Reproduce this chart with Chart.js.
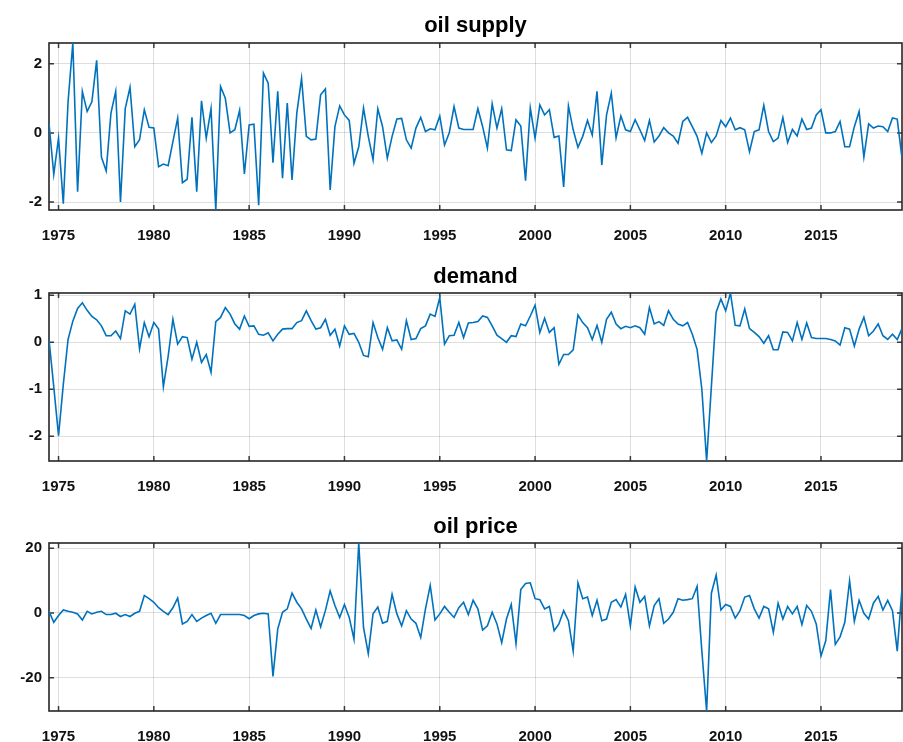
<!DOCTYPE html>
<html>
<head>
<meta charset="utf-8">
<title>oil supply / demand / oil price</title>
<script src="https://cdn.jsdelivr.net/npm/chart.js@4.4.1/dist/chart.umd.min.js"></script>
<style>
  body { margin: 0; background: #fff; }
  canvas { position: absolute; left: 0; }
</style>
</head>
<body>
<canvas id="supply-chart" width="903" height="250" style="top:0px"></canvas>
<canvas id="demand-chart" width="903" height="250" style="top:250px"></canvas>
<canvas id="price-chart" width="903" height="242" style="top:500px"></canvas>
<script>
// quarterly series, first observation is 1974Q3
const firstQuarter = 1974.5;
const yearTicks = [1975, 1980, 1985, 1990, 1995, 2000, 2005, 2010, 2015];
const supplyTicks = [-2, 0, 2];
const demandTicks = [-2, -1, 0, 1];
const priceTicks = [-20, 0, 20];

const oilSupply = [
  0.28, -1.2, -0.15, -2.05, 0.9, 2.6, -1.7, 1.2, 0.62, 0.9,
  2.1, -0.7, -1.1, 0.57, 1.2, -2.0, 0.7, 1.32, -0.4, -0.2,
  0.67, 0.16, 0.14, -0.98, -0.9, -0.95, -0.25, 0.43, -1.44, -1.34,
  0.45, -1.7, 0.93, -0.15, 0.7, -2.23, 1.34, 1.0, 0.0, 0.09,
  0.65, -1.19, 0.23, 0.25, -2.09, 1.73, 1.44, -0.86, 1.2, -1.31,
  0.86, -1.36, 0.57, 1.58, -0.1, -0.2, -0.18, 1.1, 1.27, -1.65,
  0.18, 0.78, 0.52, 0.36, -0.88, -0.4, 0.72, -0.1, -0.78, 0.7,
  0.18, -0.73, -0.1, 0.4, 0.42, -0.2, -0.44, 0.14, 0.45, 0.04,
  0.12, 0.09, 0.49, -0.35, 0.0, 0.76, 0.14, 0.1, 0.1, 0.1,
  0.7, 0.18, -0.44, 0.84, 0.14, 0.7, -0.49, -0.51, 0.38, 0.2,
  -1.38, 0.72, -0.15, 0.81, 0.52, 0.67, -0.13, -0.09, -1.56, 0.78,
  0.09, -0.42, -0.1, 0.36, -0.06, 1.2, -0.93, 0.52, 1.15, -0.14,
  0.49, 0.09, 0.04, 0.38, 0.09, -0.22, 0.36, -0.26, -0.09, 0.15,
  0.0, -0.09, -0.3, 0.33, 0.45, 0.18, -0.1, -0.59, 0.0, -0.28,
  -0.09, 0.36, 0.18, 0.43, 0.09, 0.15, 0.09, -0.54, 0.04, 0.09,
  0.8, 0.04, -0.25, -0.15, 0.44, -0.28, 0.1, -0.09, 0.4, 0.1,
  0.14, 0.52, 0.67, 0.0, 0.0, 0.04, 0.33, -0.4, -0.4, 0.18,
  0.62, -0.7, 0.26, 0.14, 0.2, 0.18, 0.04, 0.43, 0.4, -0.73
];

const demand = [
  0.06, -0.95, -1.99, -0.9, 0.06, 0.45, 0.72, 0.84, 0.68, 0.55,
  0.48, 0.35, 0.14, 0.14, 0.24, 0.08, 0.67, 0.6, 0.81, -0.14,
  0.42, 0.12, 0.42, 0.28, -0.95, -0.3, 0.49, -0.04, 0.12, 0.1,
  -0.36, 0.0, -0.43, -0.26, -0.64, 0.44, 0.53, 0.74, 0.6, 0.39,
  0.28, 0.56, 0.34, 0.35, 0.17, 0.15, 0.2, 0.03, 0.17, 0.28,
  0.29, 0.29, 0.42, 0.46, 0.67, 0.46, 0.28, 0.31, 0.49, 0.15,
  0.28, -0.08, 0.35, 0.17, 0.19, 0.0, -0.28, -0.31, 0.42, 0.1,
  -0.15, 0.31, 0.03, 0.05, -0.15, 0.46, 0.06, 0.08, 0.29, 0.35,
  0.6, 0.55, 0.95, -0.04, 0.14, 0.15, 0.42, 0.1, 0.41, 0.42,
  0.44, 0.56, 0.53, 0.35, 0.15, 0.08, 0.0, 0.14, 0.12, 0.39,
  0.35, 0.56, 0.79, 0.21, 0.51, 0.21, 0.31, -0.47, -0.26, -0.26,
  -0.16, 0.58, 0.42, 0.31, 0.06, 0.36, 0.0, 0.49, 0.64, 0.39,
  0.29, 0.34, 0.31, 0.35, 0.31, 0.17, 0.74, 0.39, 0.44, 0.36,
  0.67, 0.49, 0.39, 0.35, 0.42, 0.17, -0.15, -1.0, -2.53, -0.94,
  0.64, 0.92, 0.67, 1.05, 0.36, 0.35, 0.71, 0.29, 0.21, 0.12,
  -0.02, 0.14, -0.16, -0.16, 0.22, 0.21, 0.03, 0.42, 0.06, 0.41,
  0.1, 0.08, 0.08, 0.08, 0.06, 0.03, -0.06, 0.31, 0.28, -0.08,
  0.28, 0.53, 0.14, 0.24, 0.39, 0.14, 0.06, 0.17, 0.06, 0.29
];

const oilPrice = [
  0.5, -2.9, -0.8, 0.9, 0.5, 0.2, -0.3, -2.2, 0.5, -0.3,
  0.2, 0.5, -0.5, -0.5, -0.1, -1.1, -0.5, -1.1, -0.1, 0.5,
  5.4, 4.4, 3.3, 1.6, 0.5, -0.5, 1.6, 4.6, -3.4, -2.6,
  -0.5, -2.6, -1.6, -0.8, -0.1, -3.2, -0.5, -0.5, -0.5, -0.5,
  -0.5, -0.8, -1.8, -0.8, -0.3, -0.1, -0.3, -19.6, -5.0, 0.2,
  1.25, 6.1, 3.3, 1.25, -1.9, -4.8, 0.9, -4.3, 0.7, 6.8,
  2.3, -1.4, 2.6, -1.4, -8.1, 21.6, -4.5, -12.6, -0.3, 1.8,
  -3.2, -2.6, 5.7, -0.3, -4.0, 0.7, -1.9, -3.2, -7.6, 1.25,
  8.5, -2.2, -0.3, 2.0, 0.2, -1.4, 1.6, 3.3, -0.5, 3.9,
  1.25, -5.3, -4.0, 0.2, -3.4, -9.2, -1.9, 2.6, -9.5, 7.2,
  9.1, 9.3, 4.4, 4.1, 1.25, 2.0, -5.5, -3.4, 0.7, -2.4,
  -11.8, 9.3, 4.4, 4.9, -0.8, 3.9, -2.4, -1.9, 3.3, 4.1,
  1.8, 5.7, -4.0, 8.0, 3.3, 5.1, -4.0, 2.3, 4.4, -3.2,
  -1.9, 0.2, 4.4, 3.9, 4.1, 4.4, 8.2, -11.8, -30.3, 6.1,
  11.7, 0.9, 2.6, 2.0, -1.6, 0.7, 4.9, 5.4, 1.25, -1.6,
  2.0, 1.25, -6.0, 3.0, -1.9, 2.0, -0.3, 2.0, -3.6, 2.3,
  0.5, -3.4, -13.3, -8.6, 7.2, -9.7, -7.4, -2.9, 9.9, -2.6,
  3.9, -0.1, -1.9, 3.0, 5.1, 0.9, 3.9, 0.7, -11.8, 7.5
];

// box round the plot area plus inward tick marks (matlab look)
const axesBox = {
  id: "axesBox",
  beforeDatasetsDraw(chart) {
    const ctx = chart.ctx;
    const a = chart.chartArea;
    const x = chart.scales.x;
    const y = chart.scales.y;
    const len = 5;
    ctx.save();
    ctx.strokeStyle = "#3a3a3a";
    ctx.lineWidth = 1.5;
    ctx.beginPath();
    x.ticks.forEach((t) => {
      const px = x.getPixelForValue(t.value);
      ctx.moveTo(px, a.bottom); ctx.lineTo(px, a.bottom - len);
      ctx.moveTo(px, a.top); ctx.lineTo(px, a.top + len);
    });
    y.ticks.forEach((t) => {
      const py = y.getPixelForValue(t.value);
      ctx.moveTo(a.left, py); ctx.lineTo(a.left + len, py);
      ctx.moveTo(a.right, py); ctx.lineTo(a.right - len, py);
    });
    ctx.stroke();
    ctx.lineWidth = 1.6;
    ctx.strokeStyle = "#262626";
    ctx.strokeRect(a.left, a.top, a.right - a.left, a.bottom - a.top);
    ctx.restore();
  }
};

function makePanel(canvasId, title, values, yTicks, titleTop, xAxisHeight) {
  const points = values.map((v, i) => ({ x: firstQuarter + i * 0.25, y: v }));
  const ctx = document.getElementById(canvasId).getContext("2d");
  return new Chart(ctx, {
    type: "line",
    data: {
      datasets: [{
        data: points,
        borderColor: "#0072BD",
        borderWidth: 1.6,
        pointRadius: 0,
        tension: 0,
        fill: false
      }]
    },
    options: {
      responsive: false,
      animation: false,
      layout: { padding: { left: 0, right: 1, top: 0, bottom: 0 } },
      scales: {
        x: {
          type: "linear",
          min: firstQuarter,
          max: points[points.length - 1].x,
          afterBuildTicks: (axis) => { axis.ticks = yearTicks.map((v) => ({ value: v })); },
          afterFit: (axis) => { axis.height = xAxisHeight; },
          grid: { color: "rgba(0,0,0,0.13)", lineWidth: 1, drawTicks: false },
          border: { display: false },
          ticks: {
            padding: 17,
            maxRotation: 0,
            color: "#111",
            font: { family: "'Liberation Sans', Arial, sans-serif", size: 15, weight: "bold" },
            callback: (v) => String(v)
          }
        },
        y: {
          min: Math.min(...values),
          max: Math.max(...values),
          afterBuildTicks: (axis) => { axis.ticks = yTicks.map((v) => ({ value: v })); },
          afterFit: (axis) => { axis.width = 49; },
          grid: { color: "rgba(0,0,0,0.13)", lineWidth: 1, drawTicks: false },
          border: { display: false },
          ticks: {
            padding: 7,
            color: "#111",
            font: { family: "'Liberation Sans', Arial, sans-serif", size: 15, weight: "bold" },
            callback: (v) => String(v)
          }
        }
      },
      plugins: {
        legend: { display: false },
        tooltip: { enabled: false },
        title: {
          display: true,
          text: title,
          fullSize: false,
          color: "#000",
          font: { family: "'Liberation Sans', Arial, sans-serif", size: 22, weight: "bold", lineHeight: 1.2 },
          padding: { top: titleTop, bottom: 43 - titleTop - 26.4 }
        }
      }
    },
    plugins: [axesBox]
  });
}

makePanel("supply-chart", "oil supply", oilSupply, supplyTicks, 13, 40);
makePanel("demand-chart", "demand", demand, demandTicks, 14, 39);
makePanel("price-chart", "oil price", oilPrice, priceTicks, 14, 31);
</script>
</body>
</html>
